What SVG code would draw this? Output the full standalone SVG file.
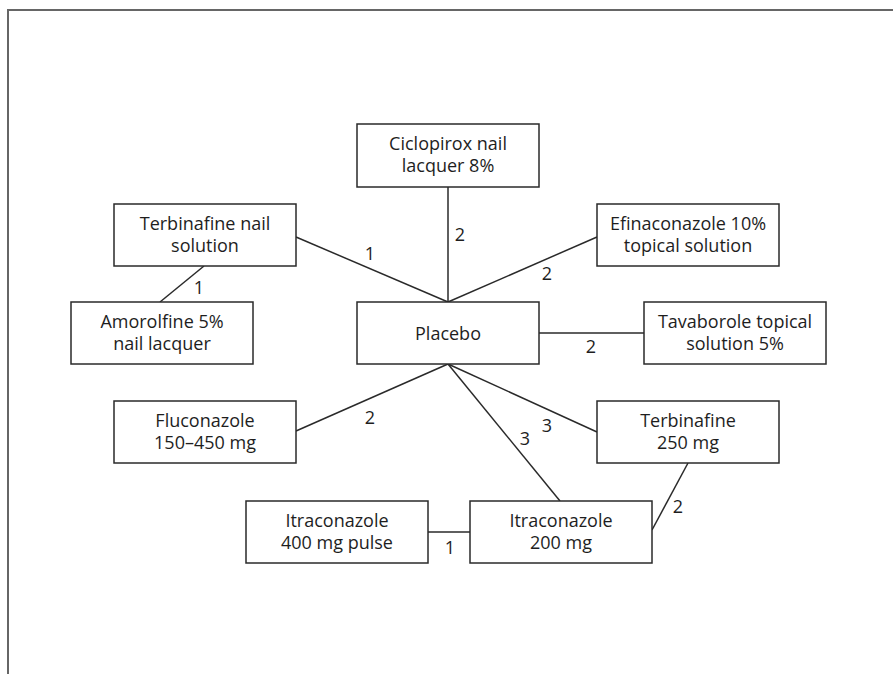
<svg xmlns="http://www.w3.org/2000/svg" width="893" height="674" viewBox="0 0 893 674">
<style>
.box rect{fill:#fff;stroke:#2a2a2a;stroke-width:1.5}
text{font-family:"Open Sans","Noto Sans","DejaVu Sans",sans-serif;font-size:18px;fill:#1e1e1e;text-anchor:middle}
.conn line{stroke:#2a2a2a;stroke-width:1.5}
</style>
<rect width="893" height="674" fill="#fff"/>
<path d="M8 674V10H893" fill="none" stroke="#666" stroke-width="2"/>
<g class="conn">
<line x1="448" y1="187" x2="448" y2="302"/>
<line x1="296" y1="237" x2="448" y2="302"/>
<line x1="597" y1="237" x2="448" y2="302"/>
<line x1="160" y1="302" x2="204" y2="266"/>
<line x1="539" y1="333" x2="644" y2="333"/>
<line x1="296" y1="431" x2="448" y2="364"/>
<line x1="597" y1="432" x2="448" y2="364"/>
<line x1="560" y1="501" x2="448" y2="364"/>
<line x1="428" y1="532" x2="470" y2="532"/>
<line x1="688" y1="463" x2="652" y2="530"/>
<text x="370" y="260">1</text>
<text x="199" y="294">1</text>
<text x="460" y="241">2</text>
<text x="547" y="280">2</text>
<text x="591" y="353">2</text>
<text x="370" y="424">2</text>
<text x="547" y="432">3</text>
<text x="525" y="445">3</text>
<text x="678" y="513">2</text>
<text x="450" y="554">1</text>
</g>
<g id="ciclopirox" class="box"><rect x="357" y="124" width="182" height="63"/><text x="448" y="150">Ciclopirox nail</text><text x="448" y="172">lacquer 8%</text></g>
<g id="terbinafine-nail" class="box"><rect x="114" y="204" width="182" height="62"/><text x="205" y="230">Terbinafine nail</text><text x="205" y="252">solution</text></g>
<g id="efinaconazole" class="box"><rect x="597" y="204" width="182" height="62"/><text x="688" y="230">Efinaconazole 10%</text><text x="688" y="252">topical solution</text></g>
<g id="amorolfine" class="box"><rect x="71" y="302" width="182" height="62"/><text x="162" y="328">Amorolfine 5%</text><text x="162" y="350">nail lacquer</text></g>
<g id="placebo" class="box"><rect x="357" y="302" width="182" height="62"/><text x="448" y="340">Placebo</text></g>
<g id="tavaborole" class="box"><rect x="644" y="302" width="182" height="62"/><text x="735" y="328">Tavaborole topical</text><text x="735" y="350">solution 5%</text></g>
<g id="fluconazole" class="box"><rect x="114" y="401" width="182" height="62"/><text x="205" y="427">Fluconazole</text><text x="205" y="449">150–450 mg</text></g>
<g id="terbinafine-250" class="box"><rect x="597" y="401" width="182" height="62"/><text x="688" y="427">Terbinafine</text><text x="688" y="449">250 mg</text></g>
<g id="itraconazole-400" class="box"><rect x="246" y="501" width="182" height="62"/><text x="337" y="527">Itraconazole</text><text x="337" y="549">400 mg pulse</text></g>
<g id="itraconazole-200" class="box"><rect x="470" y="501" width="182" height="62"/><text x="561" y="527">Itraconazole</text><text x="561" y="549">200 mg</text></g>
</svg>
